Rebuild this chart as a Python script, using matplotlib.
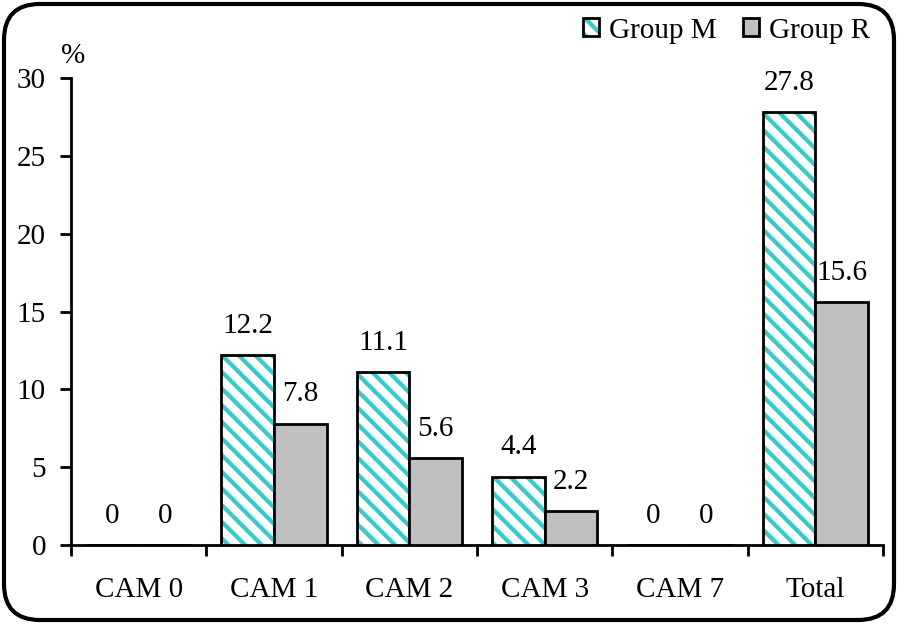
import matplotlib
matplotlib.use("Agg")
import matplotlib.pyplot as plt
import numpy as np
from matplotlib.patches import FancyBboxPatch, Patch
from matplotlib.colors import to_rgba

categories = ["CAM 0", "CAM 1", "CAM 2", "CAM 3", "CAM 7", "Total"]
group_m = [0, 12.2, 11.1, 4.4, 0, 27.8]
group_r = [0, 7.8, 5.6, 2.2, 0, 15.6]
labels_m = ["0", "12.2", "11.1", "4.4", "0", "27.8"]
labels_r = ["0", "7.8", "5.6", "2.2", "0", "15.6"]
series_names = ["Group M", "Group R"]

plt.rcParams['font.family'] = ['Liberation Serif', 'DejaVu Serif']
plt.rcParams['hatch.linewidth'] = 3.0
FS = 21

fig = plt.figure(figsize=(8.98, 6.24), dpi=100)
ax = fig.add_axes([71/898, 79/624, (883-71)/898, (545-78)/624])

x = np.arange(len(categories))
w = 0.39
cyan = '#33CCCC'
gray = '#C0C0C0'

bm = ax.bar(x - w/2, group_m, w, facecolor='white', edgecolor='black', hatch='\\\\', linewidth=2, zorder=3)
for p in bm:
    p._hatch_color = to_rgba(cyan)
br = ax.bar(x + w/2, group_r, w, facecolor=gray, edgecolor='black', linewidth=2, zorder=3)

for xi, v, t in zip(x, group_m, labels_m):
    ax.annotate(t, (xi - w/2, v), xytext=(0, 16), textcoords='offset points',
                ha='center', va='baseline', fontsize=FS)
for xi, v, t in zip(x, group_r, labels_r):
    ax.annotate(t, (xi + w/2, v), xytext=(0, 16), textcoords='offset points',
                ha='center', va='baseline', fontsize=FS)

ax.set_xlim(-0.5, len(categories) - 0.5)
ax.set_ylim(0, 30)
ax.set_yticks(np.arange(0, 31, 5))
ax.set_xticks(x)
ax.set_xticklabels(categories, fontsize=FS)
ax.set_xticks(np.arange(-0.5, len(categories), 1), minor=True)
ax.tick_params(axis='x', which='major', length=0, pad=23)
ax.tick_params(axis='x', which='minor', length=8, width=2, direction='out')
ax.tick_params(axis='y', length=8, width=2, direction='out', pad=10, labelsize=FS)
for s in ['top', 'right']:
    ax.spines[s].set_visible(False)
for s in ['left', 'bottom']:
    ax.spines[s].set_linewidth(2)

fig.text(73/898, 1 - 56/624, "%", fontsize=FS, ha='center', va='center')

hm = Patch(facecolor='white', edgecolor='black', hatch='\\\\', linewidth=2)
hm._hatch_color = to_rgba(cyan)
hr = Patch(facecolor=gray, edgecolor='black', linewidth=2)
leg = fig.legend([hm, hr], series_names, loc='upper right',
                 bbox_to_anchor=(888/898, 1 - 0/624), ncol=2, frameon=False,
                 fontsize=FS, handlelength=0.55, handleheight=0.55,
                 handletextpad=0.35, columnspacing=0.9, borderpad=0.1)
for h in leg.legend_handles:
    if h.get_hatch():
        h._hatch_color = to_rgba(cyan)

border = FancyBboxPatch((4/898, 4/624), 890/898, 616/624,
                        boxstyle="round,pad=0,rounding_size=0.04",
                        transform=fig.transFigure, facecolor='none',
                        edgecolor='black', linewidth=3, mutation_aspect=898/624)
fig.patches.append(border)

fig.savefig("out.png", dpi=100)
